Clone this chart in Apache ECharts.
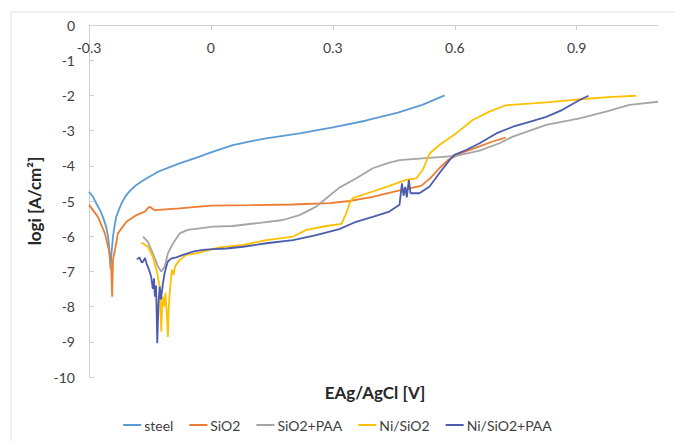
<!DOCTYPE html>
<html>
<head>
<meta charset="utf-8">
<script src="https://cdn.jsdelivr.net/npm/echarts@6/dist/echarts.min.js"></script>
<style>
  html, body { margin: 0; padding: 0; background: #fff; }
  #chart { width: 675px; height: 441px; }
</style>
</head>
<body>
<div id="chart"></div>
<script>
// potential E (V) vs logi
const seriesNames = ['steel', 'SiO2', 'SiO2+PAA', 'Ni/SiO2', 'Ni/SiO2+PAA']
const seriesColors = ['#5b9bd5', '#ed7d31', '#a5a5a5', '#ffc000', '#4c5cad']

const steel = [
  [-0.3, -4.74], [-0.290, -4.88], [-0.282, -5.07], [-0.272, -5.28], [-0.266, -5.45],
  [-0.258, -5.72], [-0.253, -6.01], [-0.249, -6.5], [-0.247, -6.92], [-0.244, -6.4],
  [-0.241, -6.01], [-0.237, -5.7], [-0.233, -5.45], [-0.226, -5.24], [-0.220, -5.07],
  [-0.210, -4.86], [-0.200, -4.72], [-0.185, -4.56], [-0.170, -4.44], [-0.159, -4.36],
  [-0.130, -4.17], [-0.100, -4.03], [-0.077, -3.93], [-0.028, -3.74], [0.0, -3.62],
  [0.054, -3.41], [0.100, -3.30], [0.136, -3.22], [0.218, -3.08], [0.300, -2.91],
  [0.380, -2.72], [0.460, -2.49], [0.520, -2.27], [0.575, -2.0]
]
const sio2 = [
  [-0.3, -5.11], [-0.278, -5.45], [-0.261, -5.92], [-0.251, -6.39], [-0.245, -7.0],
  [-0.243, -7.72], [-0.241, -6.68], [-0.237, -6.45], [-0.229, -5.92], [-0.208, -5.59],
  [-0.183, -5.40], [-0.163, -5.30], [-0.151, -5.16], [-0.138, -5.26], [-0.077, -5.21],
  [0.0, -5.13], [0.1, -5.12], [0.2, -5.1], [0.292, -5.06], [0.341, -5.0],
  [0.398, -4.88], [0.456, -4.72], [0.517, -4.57], [0.540, -4.35], [0.562, -4.07],
  [0.585, -3.82], [0.620, -3.62], [0.661, -3.45], [0.693, -3.31], [0.725, -3.2]
]
const sio2Paa = [
  [-0.167, -6.01], [-0.155, -6.16], [-0.143, -6.49], [-0.130, -6.87], [-0.122, -7.0],
  [-0.114, -6.87], [-0.106, -6.49], [-0.093, -6.20], [-0.077, -5.92], [-0.057, -5.82],
  [-0.028, -5.78], [0.005, -5.73], [0.054, -5.71], [0.120, -5.62], [0.177, -5.54],
  [0.218, -5.40], [0.259, -5.16], [0.284, -4.92], [0.316, -4.62], [0.357, -4.36],
  [0.398, -4.07], [0.439, -3.91], [0.464, -3.84], [0.521, -3.79], [0.603, -3.72],
  [0.661, -3.57], [0.710, -3.36], [0.743, -3.17], [0.825, -2.84], [0.907, -2.65],
  [0.972, -2.46], [1.030, -2.27], [1.1, -2.18]
]
const niSio2 = [
  [-0.171, -6.18], [-0.155, -6.30], [-0.143, -6.58], [-0.134, -6.96], [-0.126, -7.43],
  [-0.124, -8.19], [-0.122, -8.71], [-0.120, -7.9], [-0.118, -7.72], [-0.115, -8.0],
  [-0.112, -7.6], [-0.108, -8.3], [-0.106, -8.86], [-0.104, -8.1], [-0.102, -7.7],
  [-0.100, -7.43], [-0.096, -6.95], [-0.092, -7.1], [-0.088, -6.85], [-0.077, -6.68],
  [-0.061, -6.53], [-0.036, -6.49], [-0.003, -6.39], [0.021, -6.32], [0.079, -6.25],
  [0.136, -6.11], [0.202, -6.01], [0.235, -5.82], [0.284, -5.71], [0.321, -5.65],
  [0.333, -5.35], [0.341, -5.07], [0.349, -4.92], [0.398, -4.73], [0.439, -4.57],
  [0.480, -4.40], [0.505, -4.36], [0.521, -4.12], [0.538, -3.65], [0.562, -3.41],
  [0.603, -3.08], [0.644, -2.70], [0.685, -2.46], [0.726, -2.28], [0.825, -2.2],
  [0.907, -2.11], [0.988, -2.04], [1.046, -2.01]
]
const niSio2Paa = [
  [-0.182, -6.66], [-0.176, -6.6], [-0.170, -6.75], [-0.167, -6.72], [-0.162, -6.62],
  [-0.158, -6.8], [-0.155, -6.87], [-0.151, -7.0], [-0.147, -7.15], [-0.143, -7.5],
  [-0.140, -7.2], [-0.138, -7.72], [-0.135, -7.4], [-0.132, -9.04], [-0.129, -7.9],
  [-0.126, -7.43], [-0.123, -7.8], [-0.118, -7.34], [-0.114, -7.05], [-0.110, -6.87],
  [-0.106, -6.72], [-0.097, -6.63], [-0.085, -6.6], [-0.069, -6.53], [-0.044, -6.44],
  [-0.020, -6.39], [0.005, -6.37], [0.038, -6.35], [0.079, -6.30], [0.136, -6.20],
  [0.202, -6.11], [0.259, -5.97], [0.316, -5.80], [0.357, -5.59], [0.398, -5.45],
  [0.439, -5.30], [0.464, -5.11], [0.470, -4.50], [0.474, -4.85], [0.478, -4.6],
  [0.482, -4.9], [0.487, -4.40], [0.491, -4.78], [0.513, -4.78], [0.538, -4.59],
  [0.562, -4.21], [0.587, -3.84], [0.599, -3.69], [0.628, -3.55], [0.661, -3.36],
  [0.702, -3.08], [0.743, -2.89], [0.784, -2.75], [0.825, -2.61], [0.865, -2.41],
  [0.907, -2.13], [0.929, -2.01]
]
const allData = [steel, sio2, sio2Paa, niSio2, niSio2Paa]

const font = 'Lato, "Open Sans", sans-serif'
const chart = echarts.init(document.getElementById('chart'), null, {renderer: 'svg'})

chart.setOption({
  animation: false,
  textStyle: {fontFamily: font},
  grid: {left: 89, top: 25, right: 17, bottom: 64},
  xAxis: {
    type: 'value',
    position: 'top',
    min: -0.3,
    max: 1.1,
    interval: 0.3,
    splitLine: {show: false},
    axisLine: {onZero: false, lineStyle: {color: '#d0d0d0', width: 1}},
    axisTick: {inside: true, length: 5, lineStyle: {color: '#d0d0d0'}},
    axisLabel: {
      inside: true,
      margin: 15,
      color: '#404040',
      fontSize: 14,
      fontFamily: font,
      showMaxLabel: false,
      formatter: v => (v > 1.05 ? '' : String(Math.round(v * 10) / 10))
    }
  },
  yAxis: {
    type: 'value',
    min: -10,
    max: 0,
    interval: 1,
    splitLine: {show: false},
    axisLine: {show: true, onZero: false, lineStyle: {color: '#d0d0d0', width: 1}},
    axisTick: {show: true, inside: true, length: 5, lineStyle: {color: '#d0d0d0'}},
    axisLabel: {margin: 14, color: '#404040', fontSize: 14, fontFamily: font},
    name: 'logi [A/cm²]',
    nameLocation: 'middle',
    nameGap: 44,
    nameTextStyle: {color: '#262626', fontSize: 17, fontWeight: 'bold', fontFamily: font}
  },
  legend: {
    bottom: 4,
    left: 'center',
    itemWidth: 18,
    itemHeight: 2,
    itemGap: 16,
    icon: 'rect',
    textStyle: {color: '#404040', fontSize: 14, fontFamily: font, padding: [0, 0, 0, -2]},
    data: seriesNames
  },
  graphic: [
    {
      type: 'rect',
      shape: {x: 11, y: 12, width: 680, height: 460},
      style: {fill: 'none', stroke: '#e0dcdc', lineWidth: 1},
      silent: true
    },
    {
      type: 'text',
      x: 375,
      y: 392,
      style: {
        text: 'EAg/AgCl [V]',
        fill: '#262626',
        font: 'bold 17px ' + font,
        textAlign: 'center',
        textVerticalAlign: 'middle'
      }
    }
  ],
  series: allData.map((d, i) => ({
    name: seriesNames[i],
    type: 'line',
    data: d,
    symbol: 'none',
    lineStyle: {color: seriesColors[i], width: 1.8},
    itemStyle: {color: seriesColors[i]}
  }))
})
</script>
</body>
</html>
